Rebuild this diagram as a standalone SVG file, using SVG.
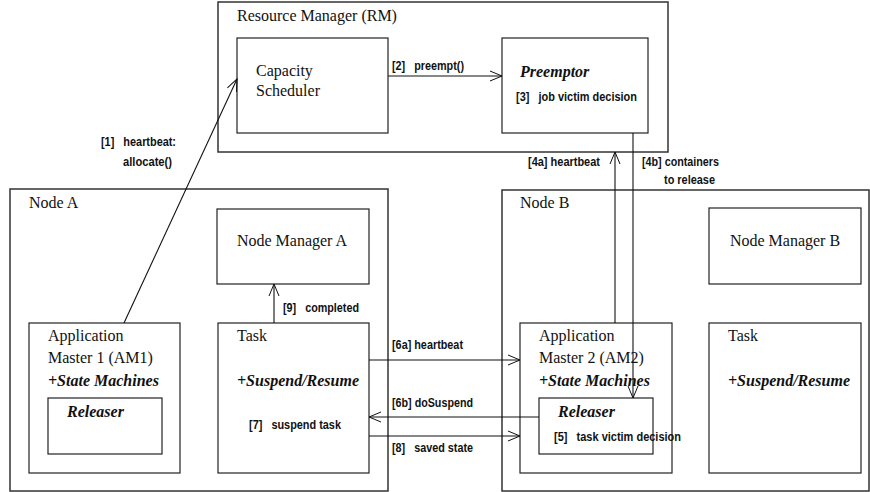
<svg xmlns="http://www.w3.org/2000/svg" width="870" height="492" viewBox="0 0 870 492">
<defs>
<marker id="ah" markerUnits="userSpaceOnUse" markerWidth="14" markerHeight="12" refX="13" refY="6" orient="auto">
<path d="M1,1 L13,6 L1,11" fill="none" stroke="#111" stroke-width="1"/>
</marker>
</defs>
<style>
.box{fill:#fff;stroke:#222;stroke-width:1.2}
.outer{fill:none;stroke:#333;stroke-width:1.5}
.s{font-family:"Liberation Serif","Times New Roman",serif;font-size:16px;fill:#111}
.bi{font-family:"Liberation Serif","Times New Roman",serif;font-size:16px;font-weight:bold;font-style:italic;fill:#111}
.l{font-family:"Liberation Sans",Arial,sans-serif;font-size:12px;font-weight:bold;fill:#111;white-space:pre}
.c{fill:none;stroke:#111;stroke-width:1.1}
</style>
<rect width="870" height="492" fill="#fff"/>
<g id="rm">
<rect class="outer" x="218" y="2" width="450" height="150"/>
<text class="s" x="237" y="21">Resource Manager (RM)</text>
</g>
<g id="capacity-scheduler">
<rect class="box" x="237" y="38" width="151" height="95"/>
<text class="s" x="256" y="76">Capacity</text>
<text class="s" x="256" y="96">Scheduler</text>
</g>
<g id="preemptor">
<rect class="box" x="502" y="38" width="146" height="95"/>
<text class="bi" x="520" y="77">Preemptor</text>
<text class="l" x="516" y="101" textLength="121" lengthAdjust="spacingAndGlyphs">[3]   job victim decision</text>
</g>
<g id="node-a">
<rect class="outer" x="10" y="189" width="378" height="302"/>
<text class="s" x="29" y="208">Node A</text>
</g>
<g id="node-manager-a">
<rect class="box" x="217" y="209" width="152" height="75"/>
<text class="s" x="292" y="246" text-anchor="middle">Node Manager A</text>
</g>
<g id="am1">
<rect class="box" x="29" y="323" width="151" height="150"/>
<text class="s" x="48" y="341">Application</text>
<text class="s" x="48" y="363">Master 1 (AM1)</text>
<text class="bi" x="48" y="386">+State Machines</text>
</g>
<g id="releaser-a">
<rect class="box" x="48" y="398" width="114" height="56"/>
<text class="bi" x="67" y="417">Releaser</text>
</g>
<g id="task-a">
<rect class="box" x="218" y="323" width="151" height="150"/>
<text class="s" x="237" y="341">Task</text>
<text class="bi" x="237" y="386">+Suspend/Resume</text>
<text class="l" x="249" y="429" textLength="92" lengthAdjust="spacingAndGlyphs">[7]   suspend task</text>
</g>
<g id="node-b">
<rect class="outer" x="502" y="190" width="367" height="301"/>
<text class="s" x="520" y="208">Node B</text>
</g>
<g id="node-manager-b">
<rect class="box" x="709" y="208" width="152" height="76"/>
<text class="s" x="785" y="246" text-anchor="middle">Node Manager B</text>
</g>
<g id="am2">
<rect class="box" x="520" y="323" width="152" height="150"/>
<text class="s" x="539" y="341">Application</text>
<text class="s" x="539" y="363">Master 2 (AM2)</text>
<text class="bi" x="539" y="386">+State Machines</text>
</g>
<g id="releaser-b">
<rect class="box" x="539" y="398" width="114" height="56"/>
<text class="bi" x="558" y="417">Releaser</text>
<text class="l" x="554" y="441" textLength="127" lengthAdjust="spacingAndGlyphs">[5]   task victim decision</text>
</g>
<g id="task-b">
<rect class="box" x="709" y="323" width="152" height="150"/>
<text class="s" x="728" y="341">Task</text>
<text class="bi" x="728" y="386">+Suspend/Resume</text>
</g>
<g id="connectors">
<line class="c" x1="124" y1="323" x2="237" y2="79" marker-end="url(#ah)"/>
<line class="c" x1="388" y1="76" x2="502" y2="76" marker-end="url(#ah)"/>
<line class="c" x1="615" y1="323" x2="615" y2="152" marker-end="url(#ah)"/>
<line class="c" x1="633" y1="133" x2="633" y2="398" marker-end="url(#ah)"/>
<line class="c" x1="274" y1="323" x2="274" y2="284" marker-end="url(#ah)"/>
<line class="c" x1="369" y1="360" x2="520" y2="360" marker-end="url(#ah)"/>
<line class="c" x1="539" y1="417" x2="369" y2="417" marker-end="url(#ah)"/>
<line class="c" x1="369" y1="436" x2="520" y2="436" marker-end="url(#ah)"/>
<text class="l" x="101" y="146" textLength="75" lengthAdjust="spacingAndGlyphs">[1]   heartbeat:</text>
<text class="l" x="123" y="166" textLength="49" lengthAdjust="spacingAndGlyphs">allocate()</text>
<text class="l" x="392" y="70" textLength="72" lengthAdjust="spacingAndGlyphs">[2]   preempt()</text>
<text class="l" x="528" y="166" textLength="72" lengthAdjust="spacingAndGlyphs">[4a] heartbeat</text>
<text class="l" x="642" y="166" textLength="77" lengthAdjust="spacingAndGlyphs">[4b] containers</text>
<text class="l" x="664" y="184" textLength="51" lengthAdjust="spacingAndGlyphs">to release</text>
<text class="l" x="283" y="312" textLength="76" lengthAdjust="spacingAndGlyphs">[9]   completed</text>
<text class="l" x="392" y="349" textLength="71" lengthAdjust="spacingAndGlyphs">[6a] heartbeat</text>
<text class="l" x="392" y="407" textLength="81" lengthAdjust="spacingAndGlyphs">[6b] doSuspend</text>
<text class="l" x="392" y="452" textLength="81" lengthAdjust="spacingAndGlyphs">[8]   saved state</text>
</g>
</svg>
